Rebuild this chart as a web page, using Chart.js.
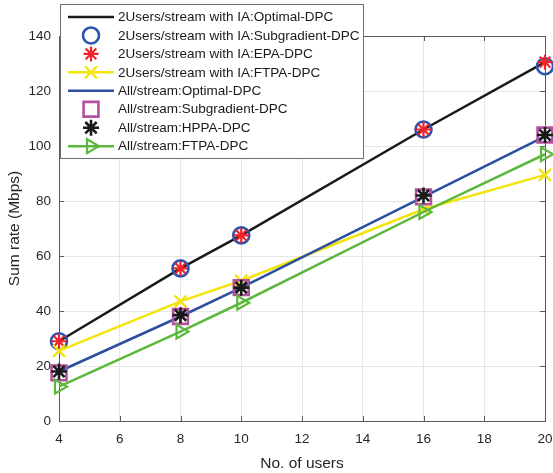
<!DOCTYPE html>
<html>
<head>
<meta charset="utf-8">
<script src="https://cdn.jsdelivr.net/npm/chart.js@4.4.1/dist/chart.umd.min.js"></script>
<style>
html,body{margin:0;padding:0;background:#fff;}
#wrap{width:553px;height:473px;position:relative;}
</style>
</head>
<body>
<div id="wrap"><canvas id="c" width="553" height="473"></canvas></div>
<script>
const users = [4, 8, 10, 16, 20];
const opt2 = [29, 55.5, 67.5, 106, 130.5];
const sub2 = [29, 55.5, 67.5, 106, 129];
const epa2 = [29, 55.5, 67.5, 106, 130.5];
const ftpa2 = [25.5, 43.5, 51, 77, 89.5];
const optAll = [18, 38, 48.5, 81.5, 103.5];
const subAll = [17.5, 38, 48.5, 81.5, 104];
const hppaAll = [18, 38.5, 48.5, 82, 104];
const ftpaAll = [12.5, 32.5, 43, 76, 97];
const xTicks = [4, 6, 8, 10, 12, 14, 16, 18, 20];
const yTicks = [0, 20, 40, 60, 80, 100, 120, 140];

const labels = [
  '2Users/stream with IA:Optimal-DPC',
  '2Users/stream with IA:Subgradient-DPC',
  '2Users/stream with IA:EPA-DPC',
  '2Users/stream with IA:FTPA-DPC',
  'All/stream:Optimal-DPC',
  'All/stream:Subgradient-DPC',
  'All/stream:HPPA-DPC',
  'All/stream:FTPA-DPC'
];

function pts(arr){ return users.map((u,i)=>({x:u,y:arr[i]})); }

const FONT = '"Liberation Sans", Arial, Helvetica, sans-serif';

const datasets = [
  {label:labels[0], data:pts(opt2), borderColor:'#1a1a1a', borderWidth:2.5, pointRadius:0, showLine:true},
  {label:labels[1], data:pts(sub2), borderColor:'#2c55ae', pointBorderWidth:2.6, pointStyle:'circle', pointRadius:8, showLine:false, pointBackgroundColor:'rgba(0,0,0,0)'},
  {label:labels[2], data:pts(epa2), borderColor:'#f0222a', pointBorderWidth:2.2, pointStyle:'star', pointRadius:7.5, showLine:false},
  {label:labels[3], data:pts(ftpa2), borderColor:'#f2e40c', borderWidth:2.5, pointBorderWidth:2.2, pointStyle:'crossRot', pointRadius:8.5, showLine:true},
  {label:labels[4], data:pts(optAll), borderColor:'#2d4fa0', borderWidth:2.5, pointRadius:0, showLine:true},
  {label:labels[5], data:pts(subAll), borderColor:'#b4519e', pointBorderWidth:2.6, pointStyle:'rect', pointRadius:10.5, showLine:false, pointBackgroundColor:'rgba(0,0,0,0)'},
  {label:labels[6], data:pts(hppaAll), borderColor:'#1a1a1a', pointBorderWidth:2.6, pointStyle:'star', pointRadius:8, showLine:false},
  {label:labels[7], data:pts(ftpaAll), borderColor:'#5cb83c', borderWidth:2.5, pointBorderWidth:2.2, pointStyle:'triangle', pointRotation:90, pointRadius:8, showLine:true, pointBackgroundColor:'rgba(0,0,0,0)'}
];
datasets.forEach((d,i)=>{
  d.order = datasets.length - i;
  d.clip = false;
  d.fill = false;
  d.tension = 0;
  d.pointBorderColor = d.borderColor;
  if(!d.pointBackgroundColor) d.pointBackgroundColor = d.borderColor;
  d.pointHoverRadius = d.pointRadius;
});

const framePlugin = {
  id:'frame',
  beforeDatasetsDraw(chart){
    const {ctx, chartArea:a, scales} = chart;
    ctx.save();
    ctx.strokeStyle = '#5a5a5a';
    ctx.lineWidth = 1;
    ctx.strokeRect(a.left+0.5, a.top+0.5, a.right-a.left, a.bottom-a.top);
    ctx.beginPath();
    xTicks.forEach(v=>{
      const x = Math.round(scales.x.getPixelForValue(v))+0.5;
      ctx.moveTo(x, a.bottom); ctx.lineTo(x, a.bottom-5);
      ctx.moveTo(x, a.top); ctx.lineTo(x, a.top+5);
    });
    yTicks.forEach(v=>{
      const y = Math.round(scales.y.getPixelForValue(v))+0.5;
      ctx.moveTo(a.left, y); ctx.lineTo(a.left+5, y);
      ctx.moveTo(a.right, y); ctx.lineTo(a.right-5, y);
    });
    ctx.stroke();
    ctx.restore();
  }
};

const legendPlugin = {
  id:'customLegend',
  afterDraw(chart){
    const ctx = chart.ctx;
    const bx = 60.5, by = 4.5, bw = 303, bh = 154;
    ctx.save();
    ctx.fillStyle = '#fff';
    ctx.fillRect(bx, by, bw, bh);
    ctx.strokeStyle = '#6e6e6e';
    ctx.lineWidth = 1;
    ctx.strokeRect(bx, by, bw, bh);
    ctx.font = '13.5px ' + FONT;
    ctx.textBaseline = 'middle';
    ctx.textAlign = 'left';
    datasets.forEach((d,i)=>{
      const y = 17 + i*18.45;
      if(d.showLine){
        ctx.beginPath();
        ctx.strokeStyle = d.borderColor;
        ctx.lineWidth = 2.5;
        ctx.moveTo(68, y); ctx.lineTo(114, y);
        ctx.stroke();
      }
      if(d.pointRadius > 0){
        ctx.strokeStyle = d.pointBorderColor;
        ctx.fillStyle = d.pointBackgroundColor;
        ctx.lineWidth = d.pointBorderWidth;
        Chart.helpers.drawPoint(ctx, {pointStyle:d.pointStyle, rotation:d.pointRotation||0, radius:d.pointRadius, borderWidth:d.pointBorderWidth}, 91, y);
      }
      ctx.fillStyle = '#1a1a1a';
      ctx.fillText(d.label, 118, y+0.5);
    });
    ctx.restore();
  }
};

new Chart(document.getElementById('c'), {
  type:'scatter',
  data:{datasets},
  options:{
    responsive:false,
    animation:false,
    events:[],
    layout:{autoPadding:false, padding:{top:36, right:8, left:0, bottom:0}},
    plugins:{legend:{display:false}, tooltip:{enabled:false}},
    scales:{
      x:{
        type:'linear', min:4, max:20,
        afterBuildTicks(s){ s.ticks = xTicks.map(v=>({value:v})); },
        afterFit(s){ s.height = 52; s.paddingRight = 0; s.paddingLeft = 0; },
        grid:{color:'#e6e6e6', drawTicks:false, lineWidth:1},
        border:{display:false},
        ticks:{color:'#262626', font:{family:FONT, size:13.5}, padding:10, maxRotation:0},
        title:{display:true, text:'No. of users', color:'#262626', font:{family:FONT, size:15.5}, padding:{top:0,bottom:0}}
      },
      y:{
        type:'linear', min:0, max:140,
        afterBuildTicks(s){ s.ticks = yTicks.map(v=>({value:v})); },
        afterFit(s){ s.width = 59; s.paddingTop = 0; s.paddingBottom = 0; },
        grid:{color:'#e6e6e6', drawTicks:false, lineWidth:1},
        border:{display:false},
        ticks:{color:'#262626', font:{family:FONT, size:13.5}, padding:8},
        title:{display:true, text:'Sum rate (Mbps)', color:'#262626', font:{family:FONT, size:15.5}, padding:{top:5,bottom:0}}
      }
    }
  },
  plugins:[framePlugin, legendPlugin]
});
</script>
</body>
</html>
